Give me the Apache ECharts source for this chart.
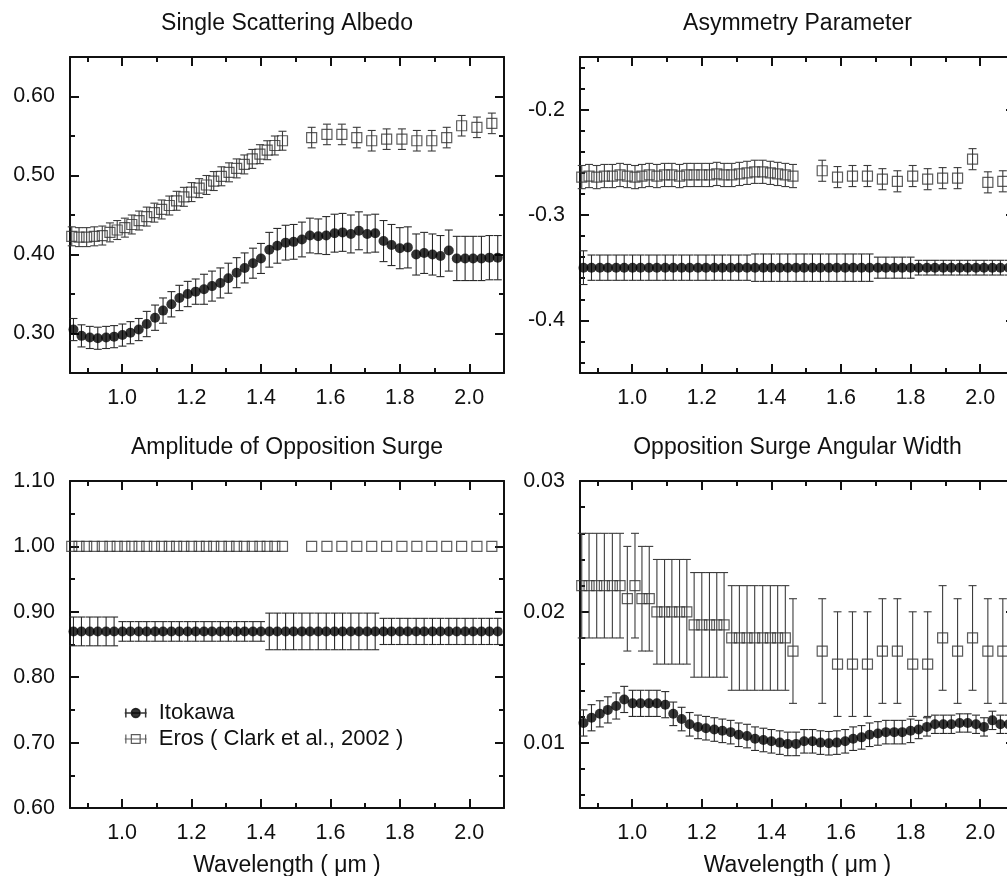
<!DOCTYPE html>
<html>
<head>
<meta charset="utf-8">
<script src="https://cdn.jsdelivr.net/npm/echarts@6/dist/echarts.min.js"></script>
<style>
  html, body { margin: 0; padding: 0; background: #ffffff; }
  #chart { width: 1007px; height: 876px; }
</style>
</head>
<body>
<div id="chart"></div>
<script>
// ---- Itokawa (Hayabusa NIRS) Hapke parameters ----
const itokawaWavelength = [
  0.860, 0.883, 0.907, 0.930, 0.954, 0.977, 1.001, 1.024, 1.048, 1.071,
  1.095, 1.118, 1.142, 1.165, 1.189, 1.212, 1.236, 1.259, 1.283, 1.306,
  1.330, 1.353, 1.377, 1.400, 1.424, 1.447, 1.471, 1.494, 1.518, 1.541,
  1.565, 1.588, 1.612, 1.635, 1.659, 1.682, 1.706, 1.729, 1.753, 1.776,
  1.800, 1.823, 1.847, 1.870, 1.894, 1.917, 1.941, 1.964, 1.988, 2.011,
  2.035, 2.058, 2.082
];
const itokawaAlbedo = [
  0.305, 0.297, 0.295, 0.294, 0.295, 0.296, 0.298, 0.301, 0.305, 0.312,
  0.320, 0.329, 0.337, 0.345, 0.350, 0.353, 0.356, 0.360, 0.364, 0.370,
  0.377, 0.383, 0.389, 0.395, 0.406, 0.411, 0.415, 0.416, 0.419, 0.424,
  0.423, 0.424, 0.427, 0.428, 0.426, 0.430, 0.426, 0.427, 0.417, 0.412,
  0.408, 0.409, 0.400, 0.402, 0.400, 0.398, 0.405, 0.395, 0.395, 0.395,
  0.395, 0.396, 0.396
];
const itokawaAlbedoErr = [
  0.014, 0.014, 0.014, 0.014, 0.014, 0.014, 0.014, 0.014, 0.014, 0.016,
  0.016, 0.016, 0.016, 0.016, 0.016, 0.016, 0.019, 0.019, 0.019, 0.019,
  0.019, 0.019, 0.019, 0.019, 0.022, 0.022, 0.022, 0.022, 0.022, 0.022,
  0.022, 0.024, 0.024, 0.024, 0.024, 0.024, 0.024, 0.024, 0.026, 0.026,
  0.026, 0.026, 0.026, 0.026, 0.026, 0.026, 0.026, 0.028, 0.028, 0.028,
  0.028, 0.028, 0.028
];
const itokawaAsymmetry = [
  -0.350, -0.350, -0.350, -0.350, -0.350, -0.350, -0.350, -0.350, -0.350, -0.350,
  -0.350, -0.350, -0.350, -0.350, -0.350, -0.350, -0.350, -0.350, -0.350, -0.350,
  -0.350, -0.350, -0.350, -0.350, -0.350, -0.350, -0.350, -0.350, -0.350, -0.350,
  -0.350, -0.350, -0.350, -0.350, -0.350, -0.350, -0.350, -0.350, -0.350, -0.350,
  -0.350, -0.350, -0.350, -0.350, -0.350, -0.350, -0.350, -0.350, -0.350, -0.350,
  -0.350, -0.350, -0.350
];
const itokawaAsymmetryErr = [
  0.016, 0.012, 0.012, 0.012, 0.012, 0.012, 0.012, 0.012, 0.012, 0.012,
  0.012, 0.012, 0.012, 0.012, 0.012, 0.012, 0.012, 0.012, 0.012, 0.012,
  0.012, 0.013, 0.013, 0.013, 0.013, 0.013, 0.013, 0.013, 0.013, 0.013,
  0.013, 0.013, 0.013, 0.013, 0.013, 0.013, 0.010, 0.010, 0.010, 0.010,
  0.010, 0.007, 0.007, 0.007, 0.007, 0.007, 0.007, 0.007, 0.007, 0.007,
  0.007, 0.007, 0.007
];
const itokawaSurgeAmplitude = [
  0.870, 0.870, 0.870, 0.870, 0.870, 0.870, 0.870, 0.870, 0.870, 0.870,
  0.870, 0.870, 0.870, 0.870, 0.870, 0.870, 0.870, 0.870, 0.870, 0.870,
  0.870, 0.870, 0.870, 0.870, 0.870, 0.870, 0.870, 0.870, 0.870, 0.870,
  0.870, 0.870, 0.870, 0.870, 0.870, 0.870, 0.870, 0.870, 0.870, 0.870,
  0.870, 0.870, 0.870, 0.870, 0.870, 0.870, 0.870, 0.870, 0.870, 0.870,
  0.870, 0.870, 0.870
];
const itokawaSurgeAmplitudeErr = [
  0.022, 0.022, 0.022, 0.022, 0.022, 0.022, 0.015, 0.015, 0.015, 0.015,
  0.015, 0.015, 0.015, 0.015, 0.015, 0.015, 0.015, 0.015, 0.015, 0.015,
  0.015, 0.015, 0.015, 0.015, 0.028, 0.028, 0.028, 0.028, 0.028, 0.028,
  0.028, 0.028, 0.028, 0.028, 0.028, 0.028, 0.028, 0.028, 0.020, 0.020,
  0.020, 0.020, 0.020, 0.020, 0.020, 0.020, 0.020, 0.020, 0.020, 0.020,
  0.020, 0.020, 0.020
];
const itokawaSurgeWidth = [
  0.0115, 0.0119, 0.0122, 0.0125, 0.0128, 0.0133, 0.0130, 0.0130, 0.0130, 0.0130,
  0.0129, 0.0122, 0.0118, 0.0114, 0.0112, 0.0111, 0.0110, 0.0109, 0.0108, 0.0106,
  0.0105, 0.0103, 0.0102, 0.0101, 0.0100, 0.0099, 0.0099, 0.0101, 0.0101, 0.0100,
  0.00995, 0.0100, 0.0101, 0.0103, 0.0104, 0.0106, 0.0107, 0.0108, 0.0108, 0.0108,
  0.0109, 0.0110, 0.0112, 0.0114, 0.0114, 0.0114, 0.0115, 0.0115, 0.0114, 0.0112,
  0.0117, 0.0114, 0.0114
];
const itokawaSurgeWidthErr = [
  0.0010, 0.0010, 0.0010, 0.0010, 0.0010, 0.0010, 0.0010, 0.0010, 0.0010, 0.0010,
  0.0010, 0.0009, 0.0009, 0.0009, 0.0009, 0.0009, 0.0009, 0.0009, 0.0009, 0.0009,
  0.0009, 0.0009, 0.0009, 0.0009, 0.0009, 0.0009, 0.0009, 0.0009, 0.0009, 0.0009,
  0.0009, 0.0009, 0.0009, 0.0009, 0.0009, 0.0009, 0.0009, 0.0009, 0.0009, 0.0009,
  0.0009, 0.0007, 0.0007, 0.0007, 0.0007, 0.0007, 0.0007, 0.0007, 0.0007, 0.0007,
  0.0007, 0.0007, 0.0007
];

// ---- Eros (NEAR NIS, Clark et al., 2002) ----
const erosWavelength = [
  0.855, 0.876, 0.898, 0.920, 0.943, 0.965, 0.986, 1.008, 1.028, 1.049,
  1.071, 1.093, 1.114, 1.136, 1.157, 1.178, 1.200, 1.222, 1.243, 1.264,
  1.286, 1.308, 1.330, 1.352, 1.375, 1.397, 1.418, 1.440, 1.462,
  1.546, 1.590, 1.633, 1.676, 1.719, 1.762, 1.806, 1.849, 1.892, 1.935,
  1.978, 2.022, 2.065
];
const erosAlbedo = [
  0.423, 0.422, 0.422, 0.423, 0.424, 0.428, 0.431, 0.434, 0.438, 0.443,
  0.448, 0.453, 0.457, 0.462, 0.468, 0.473, 0.479, 0.484, 0.488, 0.493,
  0.499, 0.504, 0.509, 0.514, 0.521, 0.527, 0.532, 0.538, 0.544,
  0.548, 0.552, 0.552, 0.548, 0.544, 0.546, 0.546, 0.544, 0.544, 0.548,
  0.563, 0.561, 0.566
];
const erosAlbedoErr = [
  0.012, 0.012, 0.012, 0.012, 0.012, 0.012, 0.012, 0.012, 0.012, 0.012,
  0.012, 0.012, 0.012, 0.012, 0.012, 0.012, 0.012, 0.012, 0.012, 0.012,
  0.012, 0.012, 0.012, 0.012, 0.012, 0.012, 0.012, 0.012, 0.012,
  0.013, 0.013, 0.013, 0.013, 0.013, 0.013, 0.013, 0.013, 0.013, 0.013,
  0.013, 0.013, 0.013
];
const erosAsymmetry = [
  -0.264, -0.263, -0.264, -0.263, -0.263, -0.262, -0.263, -0.264, -0.263, -0.262,
  -0.263, -0.262, -0.262, -0.263, -0.262, -0.262, -0.262, -0.262, -0.261, -0.262,
  -0.262, -0.261, -0.260, -0.259, -0.259, -0.260, -0.261, -0.262, -0.263,
  -0.258, -0.264, -0.263, -0.263, -0.266, -0.268, -0.263, -0.266, -0.265, -0.265,
  -0.247, -0.269, -0.268
];
const erosAsymmetryErr = [
  0.011, 0.011, 0.011, 0.011, 0.011, 0.011, 0.011, 0.011, 0.011, 0.011,
  0.011, 0.011, 0.011, 0.011, 0.011, 0.011, 0.011, 0.011, 0.011, 0.011,
  0.011, 0.011, 0.011, 0.011, 0.011, 0.011, 0.011, 0.011, 0.011,
  0.010, 0.010, 0.010, 0.010, 0.010, 0.010, 0.010, 0.010, 0.010, 0.010,
  0.010, 0.010, 0.010
];
const erosSurgeAmplitude = [
  1.00, 1.00, 1.00, 1.00, 1.00, 1.00, 1.00, 1.00, 1.00, 1.00,
  1.00, 1.00, 1.00, 1.00, 1.00, 1.00, 1.00, 1.00, 1.00, 1.00,
  1.00, 1.00, 1.00, 1.00, 1.00, 1.00, 1.00, 1.00, 1.00,
  1.00, 1.00, 1.00, 1.00, 1.00, 1.00, 1.00, 1.00, 1.00, 1.00,
  1.00, 1.00, 1.00
];
const erosSurgeAmplitudeErr = [
  0, 0, 0, 0, 0, 0, 0, 0, 0, 0,
  0, 0, 0, 0, 0, 0, 0, 0, 0, 0,
  0, 0, 0, 0, 0, 0, 0, 0, 0,
  0, 0, 0, 0, 0, 0, 0, 0, 0, 0,
  0, 0, 0
];
const erosSurgeWidth = [
  0.022, 0.022, 0.022, 0.022, 0.022, 0.022, 0.021, 0.022, 0.021, 0.021,
  0.020, 0.020, 0.020, 0.020, 0.020, 0.019, 0.019, 0.019, 0.019, 0.019,
  0.018, 0.018, 0.018, 0.018, 0.018, 0.018, 0.018, 0.018, 0.017,
  0.017, 0.016, 0.016, 0.016, 0.017, 0.017, 0.016, 0.016, 0.018, 0.017,
  0.018, 0.017, 0.017
];
const erosSurgeWidthErr = [
  0.004, 0.004, 0.004, 0.004, 0.004, 0.004, 0.004, 0.004, 0.004, 0.004,
  0.004, 0.004, 0.004, 0.004, 0.004, 0.004, 0.004, 0.004, 0.004, 0.004,
  0.004, 0.004, 0.004, 0.004, 0.004, 0.004, 0.004, 0.004, 0.004,
  0.004, 0.004, 0.004, 0.004, 0.004, 0.004, 0.004, 0.004, 0.004, 0.004,
  0.004, 0.004, 0.004
];

// ---- titles, names and tick values ----
const panelTitles = [
  'Single Scattering Albedo',
  'Asymmetry Parameter',
  'Amplitude of Opposition Surge',
  'Opposition Surge Angular Width'
];
const wavelengthAxisName = 'Wavelength ( \u03bcm )';
const itokawaName = 'Itokawa';
const erosName = 'Eros ( Clark et al., 2002 )';

const wavelengthTicks = [1.0, 1.2, 1.4, 1.6, 1.8, 2.0];
const wavelengthMinorTicks = [0.9, 1.1, 1.3, 1.5, 1.7, 1.9];
const albedoTicks = [0.30, 0.40, 0.50, 0.60];
const albedoMinorTicks = [0.35, 0.45, 0.55];
const asymmetryTicks = [-0.4, -0.3, -0.2];
const asymmetryMinorTicks = [-0.44, -0.42, -0.38, -0.36, -0.34, -0.32, -0.28, -0.26, -0.24, -0.22, -0.18, -0.16];
const amplitudeTicks = [0.60, 0.70, 0.80, 0.90, 1.00, 1.10];
const amplitudeMinorTicks = [0.65, 0.75, 0.85, 0.95, 1.05];
const widthTicks = [0.01, 0.02, 0.03];
const widthMinorTicks = [0.006, 0.008, 0.012, 0.014, 0.016, 0.018, 0.022, 0.024, 0.026, 0.028];

// ---- styling ----
const INK = '#111111';
const FONT = "'Liberation Sans', Arial, Helvetica, sans-serif";
const LABEL_SIZE = 21.5;
const TITLE_SIZE = 23;

const panels = [
  { title: panelTitles[0], box: { left: 70, top: 57, width: 434, height: 316 },
    yMin: 0.25, yMax: 0.65, yTicks: albedoTicks, yMinor: albedoMinorTicks, digits: 2,
    ito: itokawaAlbedo, itoErr: itokawaAlbedoErr, eros: erosAlbedo, erosErr: erosAlbedoErr, xName: '' },
  { title: panelTitles[1], box: { left: 580, top: 57, width: 435, height: 316 },
    yMin: -0.45, yMax: -0.15, yTicks: asymmetryTicks, yMinor: asymmetryMinorTicks, digits: 1,
    ito: itokawaAsymmetry, itoErr: itokawaAsymmetryErr, eros: erosAsymmetry, erosErr: erosAsymmetryErr, xName: '' },
  { title: panelTitles[2], box: { left: 70, top: 481, width: 434, height: 327 },
    yMin: 0.60, yMax: 1.10, yTicks: amplitudeTicks, yMinor: amplitudeMinorTicks, digits: 2,
    ito: itokawaSurgeAmplitude, itoErr: itokawaSurgeAmplitudeErr, eros: erosSurgeAmplitude, erosErr: erosSurgeAmplitudeErr, xName: wavelengthAxisName },
  { title: panelTitles[3], box: { left: 580, top: 481, width: 435, height: 327 },
    yMin: 0.005, yMax: 0.03, yTicks: widthTicks, yMinor: widthMinorTicks, digits: 2,
    ito: itokawaSurgeWidth, itoErr: itokawaSurgeWidthErr, eros: erosSurgeWidth, erosErr: erosSurgeWidthErr, xName: wavelengthAxisName }
];

const frameLine = { show: true, onZero: false, lineStyle: { color: INK, width: 2 } };
const noLine = { show: false };
function ticks(values, length) {
  return { show: true, inside: true, length: length, customValues: values,
           lineStyle: { color: INK, width: 2 } };
}
const labelText = { color: INK, fontSize: LABEL_SIZE, fontFamily: FONT };

// vertical error bar with short caps
function errorBarSeries(name, xs, ys, errs, gridIdx, color, z) {
  return {
    name: name + ' error',
    type: 'custom',
    xAxisIndex: gridIdx * 4,
    yAxisIndex: gridIdx * 4,
    z: z,
    silent: true,
    encode: { x: 0, y: 1 },
    data: xs.map((x, i) => [x, ys[i], errs[i]]),
    renderItem: function (params, api) {
      const x = api.value(0), y = api.value(1), e = api.value(2);
      if (!e) return null;
      const lo = api.coord([x, y - e]);
      const hi = api.coord([x, y + e]);
      const cap = 4;
      const st = { stroke: color, lineWidth: 1.1 };
      return {
        type: 'group',
        children: [
          { type: 'line', shape: { x1: lo[0], y1: lo[1], x2: hi[0], y2: hi[1] }, style: st },
          { type: 'line', shape: { x1: lo[0] - cap, y1: lo[1], x2: lo[0] + cap, y2: lo[1] }, style: st },
          { type: 'line', shape: { x1: hi[0] - cap, y1: hi[1], x2: hi[0] + cap, y2: hi[1] }, style: st }
        ]
      };
    }
  };
}

const grid = [], xAxis = [], yAxis = [], series = [], graphic = [];

panels.forEach((p, g) => {
  grid.push(Object.assign({ containLabel: false, outerBoundsMode: 'none' }, p.box));

  const xBase = { gridIndex: g, type: 'value', min: 0.85, max: 2.1, splitLine: { show: false } };
  xAxis.push(Object.assign({}, xBase, {
    position: 'bottom', axisLine: frameLine, axisTick: ticks(wavelengthTicks, 9),
    axisLabel: Object.assign({ show: true, customValues: wavelengthTicks, margin: 14,
                               formatter: v => Number(v).toFixed(1) }, labelText),
    name: p.xName, nameLocation: 'middle', nameGap: 46,
    nameTextStyle: { color: INK, fontSize: TITLE_SIZE, fontFamily: FONT }
  }));
  xAxis.push(Object.assign({}, xBase, { position: 'bottom', axisLine: noLine,
    axisTick: ticks(wavelengthMinorTicks, 5), axisLabel: { show: false } }));
  xAxis.push(Object.assign({}, xBase, { position: 'top', axisLine: frameLine,
    axisTick: ticks(wavelengthTicks, 9), axisLabel: { show: false } }));
  xAxis.push(Object.assign({}, xBase, { position: 'top', axisLine: noLine,
    axisTick: ticks(wavelengthMinorTicks, 5), axisLabel: { show: false } }));

  const yBase = { gridIndex: g, type: 'value', min: p.yMin, max: p.yMax, splitLine: { show: false } };
  yAxis.push(Object.assign({}, yBase, {
    position: 'left', axisLine: frameLine, axisTick: ticks(p.yTicks, 9),
    axisLabel: Object.assign({ show: true, customValues: p.yTicks, margin: 15,
                               formatter: v => Number(v).toFixed(p.digits) }, labelText)
  }));
  yAxis.push(Object.assign({}, yBase, { position: 'left', axisLine: noLine,
    axisTick: ticks(p.yMinor, 5), axisLabel: { show: false } }));
  yAxis.push(Object.assign({}, yBase, { position: 'right', axisLine: frameLine,
    axisTick: ticks(p.yTicks, 9), axisLabel: { show: false } }));
  yAxis.push(Object.assign({}, yBase, { position: 'right', axisLine: noLine,
    axisTick: ticks(p.yMinor, 5), axisLabel: { show: false } }));

  // Eros: hollow squares behind, Itokawa: filled dots on top
  series.push(errorBarSeries(erosName, erosWavelength, p.eros, p.erosErr, g, '#3c3c3c', 2));
  series.push({
    name: erosName, type: 'scatter', xAxisIndex: g * 4, yAxisIndex: g * 4, z: 3,
    symbol: 'rect', symbolSize: 10, silent: true,
    itemStyle: { color: 'rgba(0,0,0,0)', borderColor: '#333333', borderWidth: 1.2 },
    data: erosWavelength.map((x, i) => [x, p.eros[i]])
  });
  series.push(errorBarSeries(itokawaName, itokawaWavelength, p.ito, p.itoErr, g, '#2a2a2a', 4));
  series.push({
    name: itokawaName, type: 'scatter', xAxisIndex: g * 4, yAxisIndex: g * 4, z: 5,
    symbol: 'circle', symbolSize: 10, silent: true,
    itemStyle: { color: '#000000' },
    data: itokawaWavelength.map((x, i) => [x, p.ito[i]])
  });

  graphic.push({
    type: 'text',
    x: p.box.left + p.box.width / 2,
    y: p.box.top - 33,
    silent: true,
    style: { text: p.title, fill: INK, fontSize: TITLE_SIZE, fontFamily: FONT,
             align: 'center', verticalAlign: 'middle',
             textAlign: 'center', textVerticalAlign: 'middle' }
  });
});

const chart = echarts.init(document.getElementById('chart'), null, { renderer: 'canvas' });
chart.setOption({
  animation: false,
  backgroundColor: '#ffffff',
  grid: grid,
  xAxis: xAxis,
  yAxis: yAxis,
  series: series,
  graphic: graphic,
  legend: {
    left: 119, top: 697, orient: 'vertical',
    itemWidth: 22, itemHeight: 10, itemGap: 4,
    selectedMode: false,
    textStyle: { color: INK, fontSize: 22, fontFamily: FONT, padding: [0, 0, 0, 7] },
    data: [
      { name: itokawaName,
        icon: 'path://M0,5L20,5M1,1L1,9M19,1L19,9M14,5A4,4,0,1,1,6,5A4,4,0,1,1,14,5Z',
        itemStyle: { color: '#000000', borderColor: '#000000', borderWidth: 1.5 } },
      { name: erosName,
        icon: 'path://M0,5L20,5M1,1L1,9M19,1L19,9M6,1L14,1L14,9L6,9Z',
        itemStyle: { color: 'rgba(0,0,0,0)', borderColor: '#333333', borderWidth: 1.2 } }
    ]
  }
});
</script>
</body>
</html>
